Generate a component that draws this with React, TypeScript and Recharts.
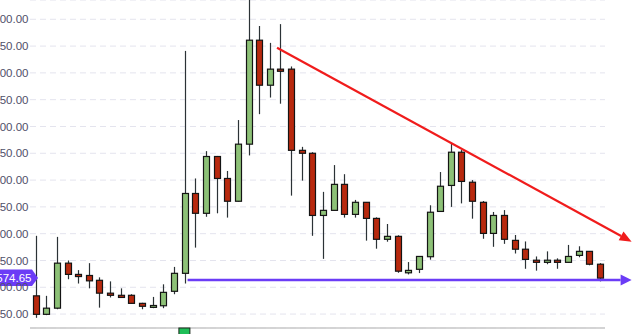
import { ComposedChart, Bar, XAxis, YAxis, CartesianGrid, ReferenceLine } from 'recharts'

// OHLC per session, oldest first
const opens = [
  584, 549.5, 561, 645, 624, 622, 613, 589, 585, 585, 570, 562.5, 565.5, 592.5, 626, 775, 738, 844,
  803, 760.5, 867, 1061, 977, 1007, 1007, 855.5, 850, 734, 743.5, 792, 736, 758.5, 728.5, 689.5, 695, 627,
  633.5, 657, 741.5, 790, 852, 796, 758.5, 700.5, 734, 687.5, 671, 650.5, 646.5, 650.5, 646.5, 659.5, 667, 643,
]
const highs = [
  696, 584, 694, 650, 632, 645, 618.5, 611, 598, 587, 571, 582, 605.5, 638, 1041, 803, 854, 845,
  817, 912, 1140, 1087.5, 1056, 1091, 1012, 862, 852, 778, 828, 811, 763, 759, 730.5, 718, 697, 647,
  658, 753, 815, 868.5, 856, 800, 761, 740.5, 744, 697.5, 685.5, 657.5, 667, 654, 679, 676.5, 667.5, 645,
]
const lows = [
  543, 548, 559, 615, 607, 598, 562, 581, 580, 569.5, 559, 561, 561, 587, 607, 674, 731.5, 738,
  730, 760, 846, 923, 954, 942.5, 771, 799, 696, 653, 743, 730, 730, 687, 672, 685, 627, 624,
  626.5, 651.5, 741, 750, 756.5, 728, 690.5, 675.5, 681, 663, 634.5, 631, 643, 634.5, 646, 656, 641, 611,
]
const closes = [
  549.5, 561, 645, 624, 620, 612, 589, 585, 581, 570, 564.5, 566, 590.5, 626, 775, 738, 844, 803,
  760.5, 867, 1061, 977, 1007, 1003, 855.5, 850, 734, 743.5, 792, 736, 758.5, 728.5, 689.5, 695, 630, 631.5,
  657.5, 740, 788.5, 852, 797.5, 760.5, 700.5, 734, 689.5, 671, 652, 646.5, 650.5, 646.5, 657.5, 667, 643, 617,
]

const priceTicks = [550, 600, 650, 700, 750, 800, 850, 900, 950, 1000, 1050, 1100]
const markerIndex = 14

// drawn annotations (index, price)
const trendLine = [
  { x: 22.7, y: 1047 },
  { x: 56, y: 685 },
]
const supportLine = [
  { x: 14.3, y: 613.5 },
  { x: 56, y: 613.5 },
]
const lastPriceLabel = '574.65'

const candles = opens.map((open, i) => ({
  i,
  open,
  high: highs[i],
  low: lows[i],
  close: closes[i],
}))

const GREEN = '#8dc177'
const RED = '#b8290e'
const PURPLE = '#6b3cf6'
const TREND_RED = '#f01c1c'
const FONT = "'Liberation Sans', Arial, sans-serif"

function Candle(props: any) {
  const { x, y, width, height, payload } = props
  const { open, close, high, low } = payload
  const top = Math.min(y, y + height)
  const h = Math.abs(height)
  const cx = Math.round(x + width / 2) + 0.5
  const perUnit = h / (high - low || 1)
  const yOf = (v: number) => top + (high - v) * perUnit
  const bodyTop = yOf(Math.max(open, close))
  const bodyBottom = yOf(Math.min(open, close))
  const up = close >= open
  return (
    <g>
      <line x1={cx} x2={cx} y1={top} y2={top + h} stroke="#2b3236" strokeWidth={1.2} />
      <rect
        x={cx - 3}
        y={bodyTop}
        width={6}
        height={Math.max(bodyBottom - bodyTop, 1.6)}
        fill={up ? GREEN : RED}
        stroke="#141414"
        strokeWidth={1.2}
      />
    </g>
  )
}

function arrowShape(color: string, strokeWidth: number, head: number, half: number, withLabel?: boolean) {
  return (p: any) => {
    const { x1, y1, x2, y2 } = p
    const ang = Math.atan2(y2 - y1, x2 - x1)
    const bx = x2 - head * Math.cos(ang)
    const by = y2 - head * Math.sin(ang)
    const nx = -Math.sin(ang) * half
    const ny = Math.cos(ang) * half
    return (
      <g>
        <line x1={x1} y1={y1} x2={bx} y2={by} stroke={color} strokeWidth={strokeWidth} />
        <polygon points={`${x2},${y2} ${bx + nx},${by + ny} ${bx - nx},${by - ny}`} fill={color} />
        {withLabel && (
          <g>
            <polygon
              points={`-10,${y1 - 10.5} 32,${y1 - 10.5} 38,${y1 - 2} 32,${y1 + 6} -10,${y1 + 6}`}
              fill={PURPLE}
            />
            <text x={31.5} y={y1 + 2} textAnchor="end" fontSize={11.5} fill="#fff" fontFamily={FONT}>
              {lastPriceLabel}
            </text>
          </g>
        )}
      </g>
    )
  }
}

function MarkerTick(props: any) {
  const { x, y, index } = props
  if (index !== markerIndex) return <g />
  return <rect x={x - 5.5} y={y} width={11} height={9} fill="#1fbf58" stroke="#1c2a1c" strokeWidth={1} />
}

export default function App() {
  return (
    <div style={{ position: 'absolute', left: 0, top: 0, width: 632, height: 334, background: '#fff' }}>
      <ComposedChart width={632} height={334} data={candles} margin={{ top: 0, right: 27, bottom: 0, left: 0 }}>
        <CartesianGrid vertical={false} stroke="#e4e4ee" strokeDasharray="6 4" />
        <XAxis
          dataKey="i"
          type="category"
          height={6}
          interval={0}
          tickLine={false}
          tickSize={0}
          tickMargin={0}
          axisLine={{ stroke: '#c9c9c9', strokeWidth: 1.5 }}
          tick={<MarkerTick />}
        />
        <XAxis xAxisId="idx" dataKey="i" type="number" domain={[-0.5, 53.5]} hide />
        <YAxis
          domain={[524, 1136]}
          allowDataOverflow
          ticks={priceTicks}
          tickFormatter={(v: number) => v.toFixed(2)}
          axisLine={false}
          tickLine={false}
          tickSize={0}
          tickMargin={1.5}
          width={30}
          tick={{ fill: '#50506a', fontSize: 11.5, fontFamily: FONT }}
        />
        <Bar
          dataKey={(d: any) => [d.low, d.high]}
          shape={(p: any) => <Candle {...p} />}
          isAnimationActive={false}
        />
        <ReferenceLine
          xAxisId="idx"
          segment={supportLine}
          ifOverflow="visible"
          shape={arrowShape(PURPLE, 2.4, 11, 5.5, true)}
        />
        <ReferenceLine
          xAxisId="idx"
          segment={trendLine}
          ifOverflow="visible"
          shape={arrowShape(TREND_RED, 2.2, 12, 5)}
        />
      </ComposedChart>
    </div>
  )
}
